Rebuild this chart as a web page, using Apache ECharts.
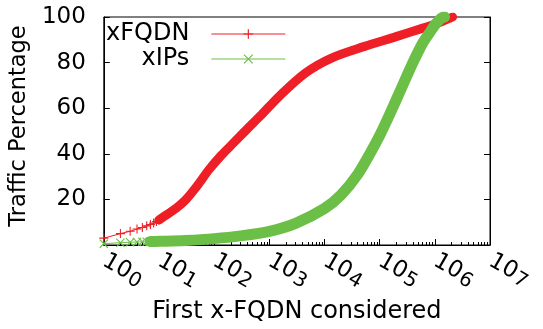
<!DOCTYPE html>
<html><head><meta charset="utf-8">
<script src="https://cdn.jsdelivr.net/npm/echarts@6/dist/echarts.min.js"></script>
<style>html,body{margin:0;padding:0;background:#fff}#c{width:543px;height:329px}</style>
</head><body><div id="c"></div>
<script>
// ---- data ----
const seriesNames = ['xFQDN', 'xIPs'];
const xTickExponents = ['0', '1', '2', '3', '4', '5', '6', '7'];
const yTickValues = [20, 40, 60, 80, 100];

// xFQDN: individually visible markers at the start
const fqdnMarkX = [1, 2, 3, 4, 5, 6, 7, 8, 9, 10, 11, 12, 13, 14, 15, 16, 18, 20];
const fqdnMarkY = [3.0, 5.0, 6.0, 7.0, 7.7, 8.4, 9.0, 9.6, 10.3, 11.0, 11.6, 12.2, 12.8, 13.3, 13.9, 14.5, 15.4, 16.3];
// xFQDN: dense part (markers merge into a thick band)
const fqdnBandX = [10, 14, 21, 31, 46, 60, 79, 136, 234, 401, 687, 1550, 4550, 13400, 51600, 199000, 586000, 1150000, 2100000];
const fqdnBandY = [11.0, 13.4, 16.3, 20.0, 25.0, 28.8, 32.8, 39.4, 45.2, 51.0, 56.6, 65.5, 75.5, 82.0, 87.0, 91.4, 95.0, 97.3, 100];

// xIPs
const ipsMarkX = [1, 2, 3, 4, 5, 6, 7, 8, 9, 10];
const ipsMarkY = [0.6, 1.0, 1.2, 1.3, 1.4, 1.45, 1.5, 1.55, 1.6, 1.6];
const ipsBandX = [7, 10, 30, 100, 300, 1000, 3000, 10000, 20000, 40000, 70000, 100000, 150000, 250000, 400000, 600000, 800000, 1000000, 1300000, 1500000];
const ipsBandY = [1.5, 1.6, 2.0, 2.8, 4.0, 6.0, 9.5, 16.0, 22, 31, 41, 48, 57, 69, 80, 88.5, 93, 96.5, 99.5, 100];

// ---- styling ----
const RED = '#ee1f26';
const GREEN = '#6bbf47';
const FONT = 'DejaVu Sans';
const plusPath = 'path://M-0.12,-1L0.12,-1L0.12,-0.12L1,-0.12L1,0.12L0.12,0.12L0.12,1L-0.12,1L-0.12,0.12L-1,0.12L-1,-0.12L-0.12,-0.12Z';
const crossPath = 'path://M-1,-0.83L-0.83,-1L1,0.83L0.83,1Z M0.83,-1L1,-0.83L-0.83,1L-1,0.83Z';

const zip = (xs, ys) => xs.map((x, i) => [x, ys[i]]);
const minorTicks = [];
for (let d = 0; d < 7; d++) for (let k = 2; k <= 9; k++) minorTicks.push(d + Math.log10(k));

const chart = echarts.init(document.getElementById('c'), null, { renderer: 'canvas' });
chart.setOption({
  animation: false,
  backgroundColor: '#fff',
  textStyle: { fontFamily: FONT, color: '#000' },
  grid: { left: 92, top: 17, width: 398, height: 229, show: true, borderColor: '#000', borderWidth: 1, backgroundColor: 'transparent' },
  legend: {
    data: seriesNames,
    orient: 'vertical', align: 'right',
    left: 106, top: 22, padding: 0, itemGap: 1,
    itemWidth: 74, itemHeight: 12,
    selectedMode: false,
    lineStyle: { width: 1 },
    textStyle: { fontFamily: FONT, fontSize: 24, color: '#000', padding: [0, 17, 0, 0] }
  },
  xAxis: [{
    type: 'log', logBase: 10, min: 1, max: 1e7, position: 'bottom',
    axisLine: { show: true, lineStyle: { color: '#000', width: 1 } },
    axisTick: { show: true, inside: true, length: 6, lineStyle: { color: '#000' } },
    splitLine: { show: false },
    axisLabel: {
      rotate: -30, margin: 14, color: '#000', align: 'center', verticalAlign: 'middle',
      formatter: v => '{s|}{b|10}{e|' + xTickExponents[Math.round(Math.log10(v))] + '}',
      rich: {
        s: { width: 44 },
        b: { fontFamily: FONT, fontSize: 23, color: '#000' },
        e: { fontFamily: FONT, fontSize: 20, color: '#000', padding: [7, 0, 0, 1] }
      }
    },
    name: 'First x-FQDN considered', nameLocation: 'middle', nameGap: 55,
    nameTextStyle: { fontFamily: FONT, fontSize: 24, color: '#000' }
  }, {
    type: 'value', min: 0, max: 7, position: 'bottom',
    axisLine: { show: false },
    axisTick: { show: true, inside: true, length: 3, customValues: minorTicks, lineStyle: { color: '#000' } },
    axisLabel: { show: false },
    splitLine: { show: false }
  }],
  yAxis: [{
    type: 'value', min: 0, max: 100, interval: 20,
    axisLine: { show: true, lineStyle: { color: '#000', width: 1 } },
    axisTick: { show: true, inside: true, length: 6, lineStyle: { color: '#000' } },
    splitLine: { show: false },
    axisLabel: {
      margin: 18, fontFamily: FONT, fontSize: 23, color: '#000',
      formatter: v => (yTickValues.indexOf(v) >= 0 ? String(v) : '')
    },
    name: 'Traffic Percentage', nameLocation: 'middle', nameGap: 54, nameRotate: 90,
    nameTextStyle: { fontFamily: FONT, fontSize: 22.5, color: '#000', padding: [0, 0, 0, 10] }
  }, {
    type: 'value', min: 0, max: 100, interval: 20, position: 'right',
    axisLine: { show: true, lineStyle: { color: '#000', width: 1 } },
    axisTick: { show: true, inside: true, length: 6, lineStyle: { color: '#000' } },
    axisLabel: { show: false },
    splitLine: { show: false }
  }],
  series: [
    {
      name: 'xFQDN band', type: 'line', data: zip(fqdnBandX, fqdnBandY),
      symbol: 'none', smooth: 0.3, z: 2,
      lineStyle: { color: RED, width: 9, cap: 'round', join: 'round' }
    },
    {
      name: 'xIPs band', type: 'line', data: zip(ipsBandX, ipsBandY),
      symbol: 'none', smooth: 0.3, z: 3,
      lineStyle: { color: GREEN, width: 11, cap: 'round', join: 'round' }
    },
    {
      name: 'xFQDN', type: 'line', data: zip(fqdnMarkX, fqdnMarkY),
      symbol: plusPath, symbolSize: 9, z: 4,
      lineStyle: { color: RED, width: 1 }, itemStyle: { color: RED }
    },
    {
      name: 'xIPs', type: 'line', data: zip(ipsMarkX, ipsMarkY),
      symbol: crossPath, symbolSize: 9, z: 4,
      lineStyle: { color: GREEN, width: 1 }, itemStyle: { color: GREEN }
    }
  ]
});
</script></body></html>
